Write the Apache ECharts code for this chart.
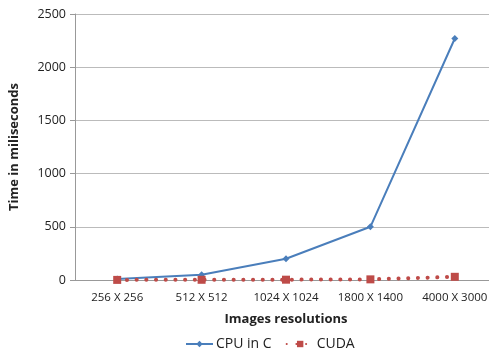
<!DOCTYPE html>
<html><head><meta charset="utf-8">
<script src="https://cdn.jsdelivr.net/npm/echarts@6/dist/echarts.min.js"></script>
<style>html,body{margin:0;padding:0;background:#fff;overflow:hidden;width:489px;height:358px}#c{width:497px;height:358px}</style>
</head><body><div id="c"></div>
<script>
const categories = ['256 X 256','512 X 512','1024 X 1024','1800 X 1400','4000 X 3000'];
const cpuValues = [10, 50, 200, 500, 2270];
const cudaValues = [1, 2, 3, 6, 30];
const yTicks = [0, 500, 1000, 1500, 2000, 2500];
const font = 'Open Sans';
const chart = echarts.init(document.getElementById('c'));
chart.setOption({
  animation: false,
  grid: {left: 74, right: 0, top: 14, bottom: 78, containLabel: false},
  legend: {
    bottom: 2, left: 180, itemGap: 14, itemWidth: 27, itemHeight: 8,
    textStyle: {fontFamily: font, fontSize: 14, color: '#222', padding: [0, 0, 0, -2]},
    data: ['CPU in C', 'CUDA']
  },
  xAxis: {
    type: 'category', data: categories, boundaryGap: true,
    name: 'Images resolutions', nameLocation: 'middle', nameGap: 33,
    nameTextStyle: {fontFamily: font, fontSize: 13, fontWeight: 'bold', color: '#222'},
    axisLine: {lineStyle: {color: '#999'}}, axisTick: {show: false},
    axisLabel: {fontFamily: font, fontSize: 11.5, color: '#222', margin: 12, interval: 0}
  },
  yAxis: {
    type: 'value', min: yTicks[0], max: yTicks[yTicks.length-1], interval: 500,
    name: 'Time in miliseconds', nameLocation: 'middle', nameGap: 54,
    nameTextStyle: {fontFamily: font, fontSize: 13, fontWeight: 'bold', color: '#222'},
    axisLine: {show: true, lineStyle: {color: '#999'}},
    axisTick: {show: true, length: 5, lineStyle: {color: '#999'}},
    axisLabel: {fontFamily: font, fontSize: 12.5, color: '#222', margin: 9,
      formatter: v => String(v)},
    splitLine: {lineStyle: {color: '#bbb'}}
  },
  series: [
    {name: 'CPU in C', type: 'line', data: cpuValues, symbol: 'diamond', symbolSize: 7,
     itemStyle: {color: '#4a7ebb'}, lineStyle: {color: '#4a7ebb', width: 2}},
    {name: 'CUDA', type: 'line', data: cudaValues, symbol: 'rect', symbolSize: 8,
     itemStyle: {color: '#be4b48'}, lineStyle: {color: '#be4b48', width: 4, type: [0.1, 9.6], cap: 'round'}}
  ]
});
</script></body></html>
